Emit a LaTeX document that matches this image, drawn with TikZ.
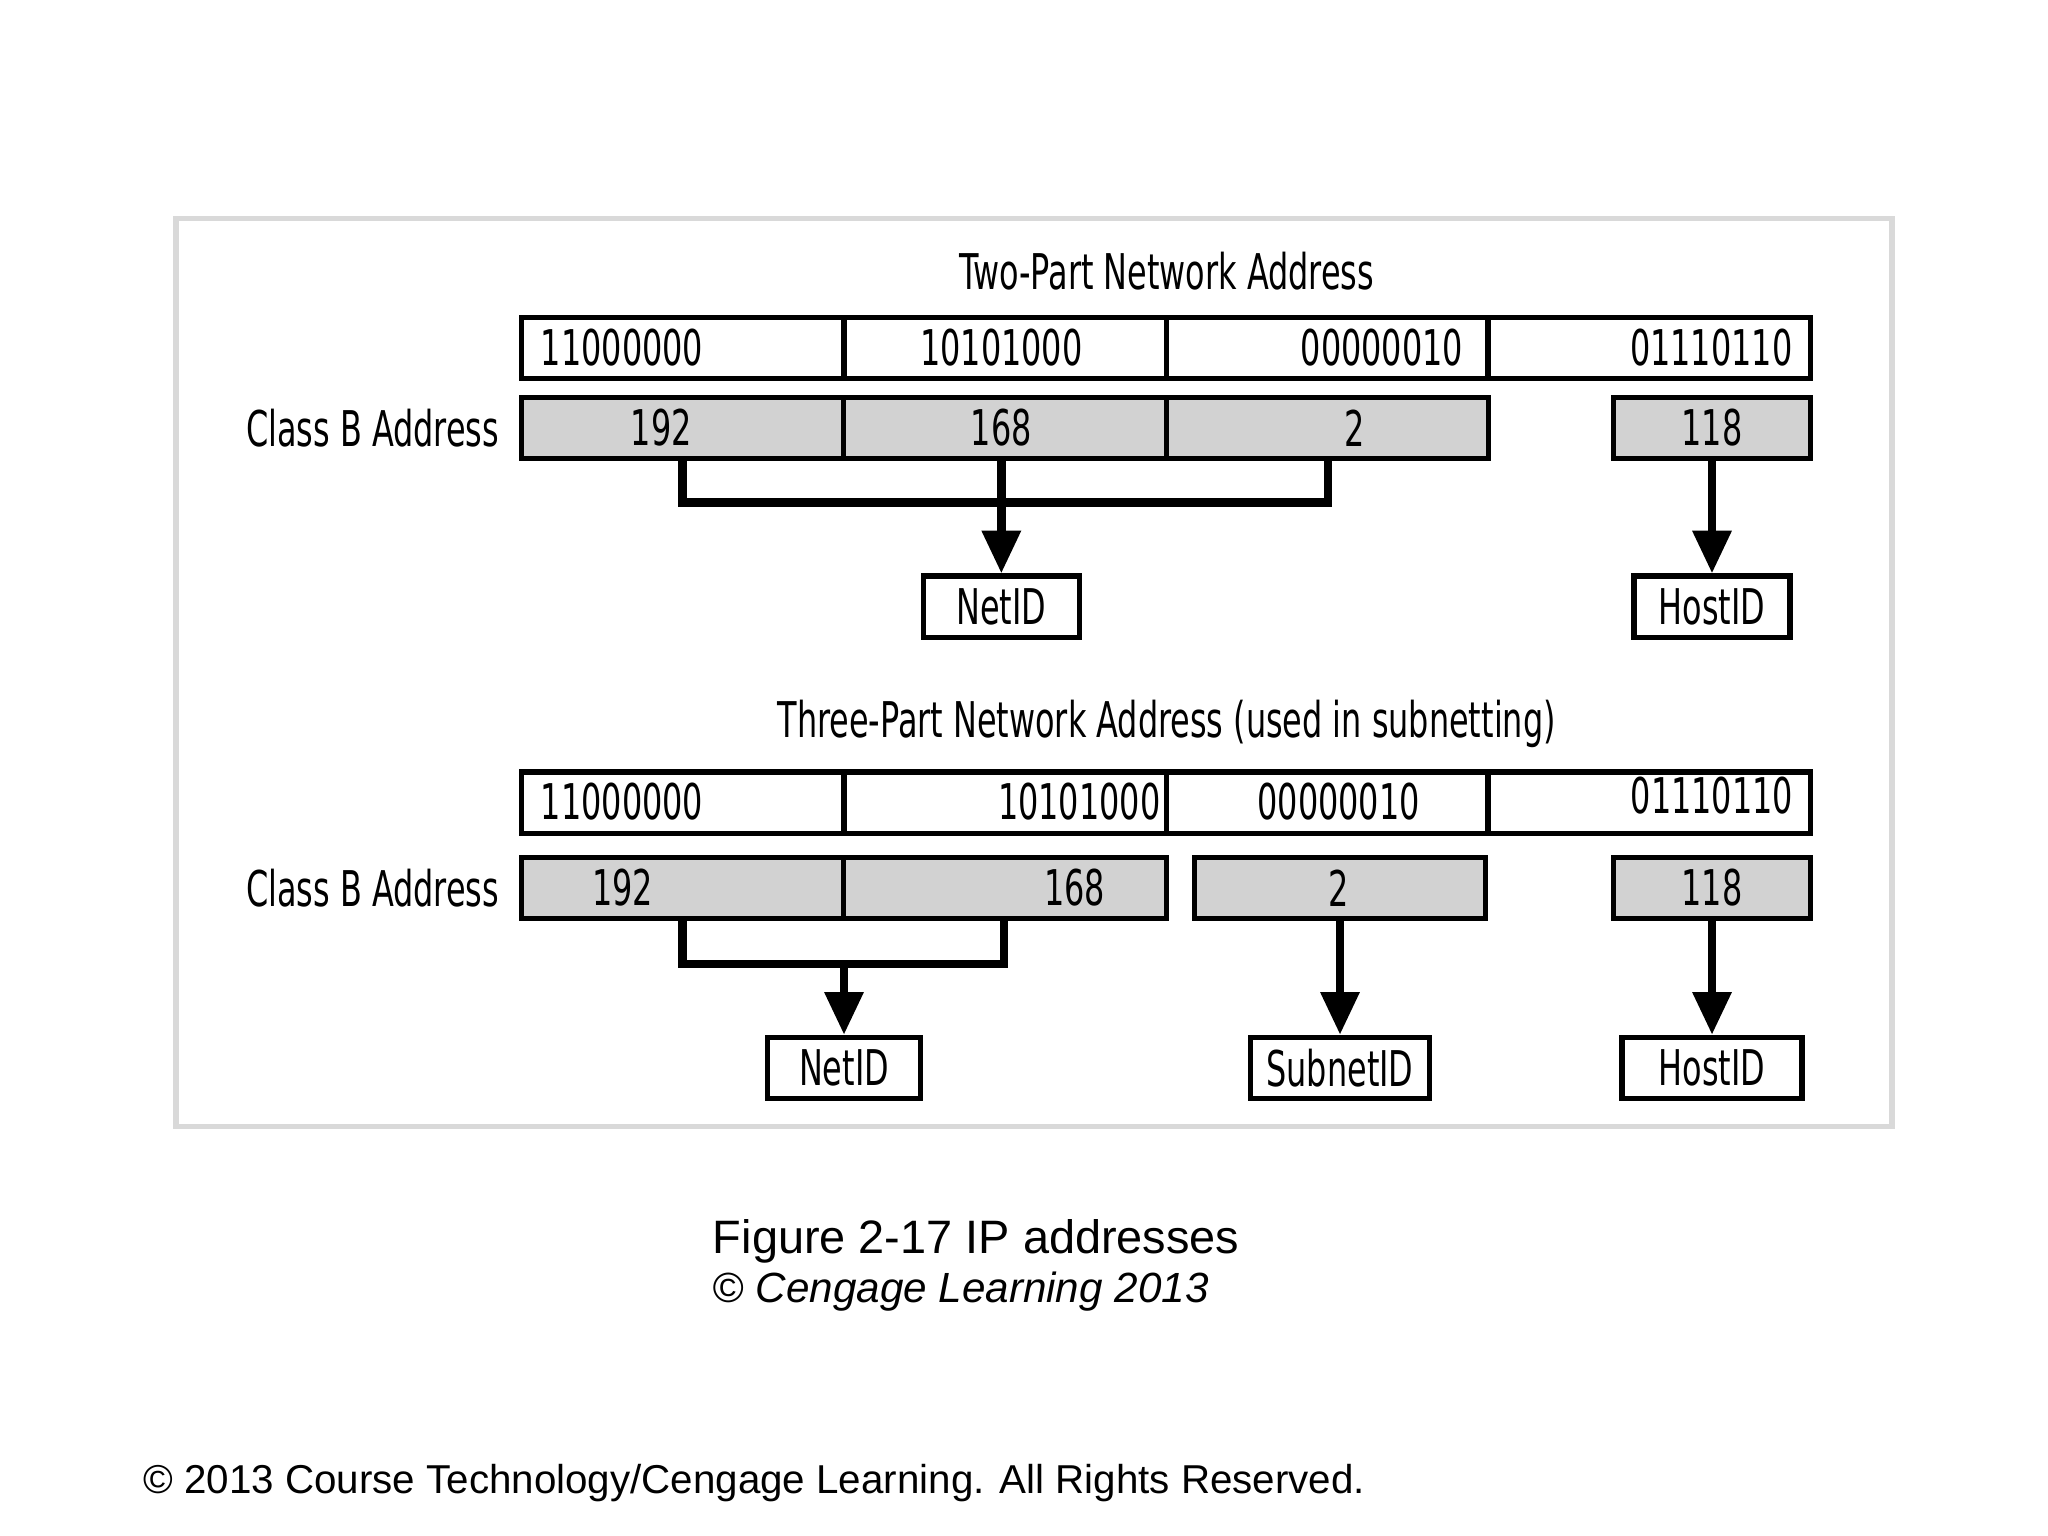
\documentclass[tikz,border=0pt]{standalone}
\usepackage{fontspec}
\setmainfont{Liberation Sans}
\newfontfamily\cond[FakeStretch=0.72]{DejaVu Sans Condensed}
\usetikzlibrary{arrows.meta}
\tikzset{
  cell/.style={draw,line width=1.1pt,inner sep=0pt,minimum height=0.46cm},
  shade/.style={cell,fill=gray!35},
  idbox/.style={draw,line width=1.1pt,inner sep=0pt,minimum height=0.46cm,font=\cond\fontsize{10.5}{12}\selectfont},
  txt/.style={inner sep=0pt,font=\cond\fontsize{10.5}{12}\selectfont},
  link/.style={line width=1.8pt},
  feed/.style={line width=1.8pt,-{Triangle[width=0.28cm,length=0.32cm]}}
}
\begin{document}
\begin{tikzpicture}[x=0.01cm,y=-0.01cm]
\useasboundingbox (0,0) rectangle (1536,1152);
\draw [gray!30,line width=1.2pt] (132,164) rectangle (1419,845);
% two-part address
\node[txt] (t1) at (875,203) {Two-Part Network Address};
\node[cell,minimum width=2.42cm] (b1) at (512,261) {};
\node[cell,minimum width=2.42cm] (b2) at (754,261) {};
\node[cell,minimum width=2.41cm] (b3) at (995.5,261) {};
\node[cell,minimum width=2.42cm] (b4) at (1237,261) {};
\node[txt,anchor=west] at (405,261) {11000000};
\node[txt] at (751,261) {10101000};
\node[txt,anchor=east] at (1098,261) {00000010};
\node[txt,anchor=east] at (1345,261) {01110110};
\node[txt,anchor=east] (cls1) at (375,321) {Class B Address};
\node[shade,minimum width=2.42cm] (d1) at (512,321) {};
\node[shade,minimum width=2.42cm] (d2) at (754,321) {};
\node[shade,minimum width=2.41cm] (d3) at (995.5,321) {};
\node[shade,minimum width=1.48cm] (d4) at (1284,321) {};
\node[txt] at (496,321) {192};
\node[txt] at (751,321) {168};
\node[txt] at (1016,321) {2};
\node[txt] at (1284,321) {118};
\node[idbox,minimum width=1.17cm] (net1) at (751,455) {NetID};
\node[idbox,minimum width=1.17cm] (host1) at (1284,455) {HostID};
\coordinate (j1) at (751,377);
\draw[link] (512,343) |- (j1) -| (996,343);
\draw[feed] (751,343) -- (net1.north);
\draw[feed] (d4.south) -- (host1.north);
% three-part address
\node[txt] (t2) at (875,543) {Three-Part Network Address (used in subnetting)};
\node[cell,minimum width=2.42cm] (e1) at (512,602) {};
\node[cell,minimum width=2.42cm] (e2) at (754,602) {};
\node[cell,minimum width=2.41cm] (e3) at (995.5,602) {};
\node[cell,minimum width=2.42cm] (e4) at (1237,602) {};
\node[txt,anchor=west] at (405,601) {11000000};
\node[txt,anchor=east] at (871,601) {10101000};
\node[txt] at (1004,601) {00000010};
\node[txt] at (1284,597) {01110110};
\node[txt,anchor=east] (cls2) at (375,666) {Class B Address};
\node[shade,minimum width=2.42cm] (f1) at (512,666) {};
\node[shade,minimum width=2.42cm] (f2) at (754,666) {};
\node[shade,minimum width=2.18cm] (f3) at (1005,666) {};
\node[shade,minimum width=1.48cm] (f4) at (1284,666) {};
\node[txt] at (467,666) {192};
\node[txt] at (806,666) {168};
\node[txt] at (1004,666) {2};
\node[txt] at (1284,666) {118};
\node[idbox,minimum width=1.15cm] (net2) at (633,801) {NetID};
\node[idbox,minimum width=1.34cm] (sub2) at (1005,801) {SubnetID};
\node[idbox,minimum width=1.35cm] (host2) at (1284,801) {HostID};
\coordinate (j2) at (633,723);
\draw[link] (512,689) |- (j2) -| (753,689);
\draw[feed] (j2) -- (net2.north);
\draw[feed] (f3.south) -- (sub2.north);
\draw[feed] (f4.south) -- (host2.north);
% captions
\node[anchor=west,inner sep=0pt,font=\fontsize{10}{12}\selectfont] (cap) at (534,931) {Figure 2-17 IP addresses};
\node[anchor=west,inner sep=0pt,font=\itshape\fontsize{9}{11}\selectfont] (cop) at (534,969) {© Cengage Learning 2013};
\node[anchor=west,inner sep=0pt,font=\fontsize{8.6}{11}\selectfont] (rights) at (107,1112) {© 2013 Course Technology/Cengage Learning. All Rights Reserved.};
\end{tikzpicture}
\end{document}
